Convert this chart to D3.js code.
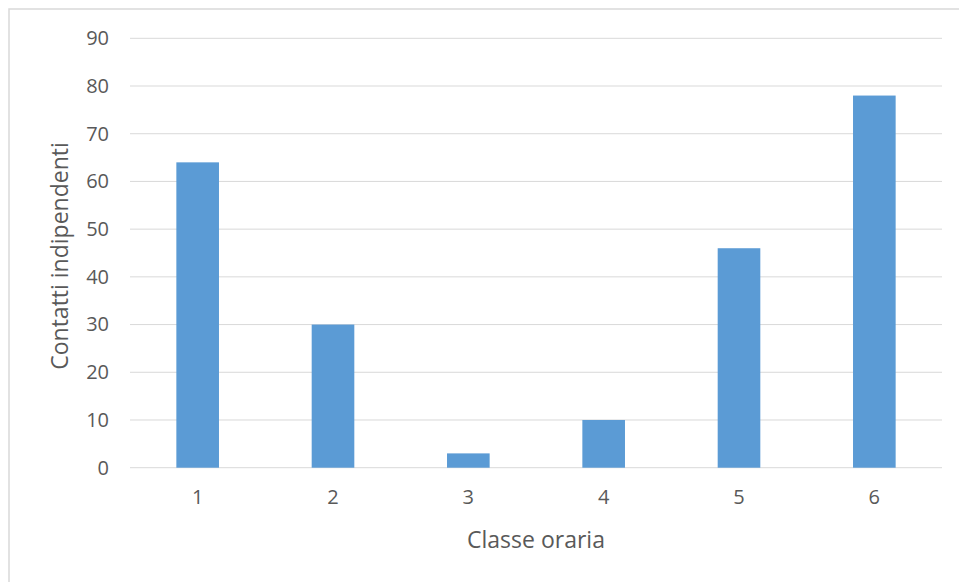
<!DOCTYPE html>
<html>
<head>
<meta charset="utf-8">
<script src="https://cdn.jsdelivr.net/npm/d3@7"></script>
<style>
  html, body { margin: 0; padding: 0; background: #fff; }
  svg { display: block; font-family: "Open Sans", "Noto Sans", sans-serif; }
</style>
</head>
<body>
<svg id="chart" width="959" height="582"></svg>
<script>
// Contatti indipendenti per classe oraria
const categories = ["1", "2", "3", "4", "5", "6"];
const values = [64, 30, 3, 10, 46, 78];
const yTicks = [0, 10, 20, 30, 40, 50, 60, 70, 80, 90];

const svg = d3.select("#chart");
const W = 959, H = 582;
const FONT = "'Open Sans', 'Noto Sans', sans-serif";
const TEXT = "#595959";

// outer frame of the chart area
svg.append("rect")
  .attr("x", 9).attr("y", 9)
  .attr("width", W + 10).attr("height", H + 10)
  .attr("fill", "#fff")
  .attr("stroke", "#d9d9d9")
  .attr("stroke-width", 1.5);

const plot = { left: 130, right: 942, top: 38.3, bottom: 467.7 };

const x = d3.scaleBand()
  .domain(categories)
  .range([plot.left, plot.right])
  .paddingInner(0.685)
  .paddingOuter(0.3425);

const y = d3.scaleLinear()
  .domain([0, 90])
  .range([plot.bottom, plot.top]);

// horizontal gridlines
svg.append("g")
  .selectAll("line")
  .data(yTicks)
  .join("line")
  .attr("x1", plot.left).attr("x2", plot.right)
  .attr("y1", d => y(d)).attr("y2", d => y(d))
  .attr("stroke", "#d9d9d9")
  .attr("stroke-width", 1);

// bars
svg.append("g")
  .selectAll("rect")
  .data(values)
  .join("rect")
  .attr("x", (d, i) => x(categories[i]))
  .attr("width", x.bandwidth())
  .attr("y", d => y(d))
  .attr("height", d => y(0) - y(d))
  .attr("fill", "#5b9bd5");

// y axis labels
const yAxis = d3.axisLeft(y).tickValues(yTicks).tickSize(0).tickPadding(0);
const gy = svg.append("g")
  .attr("transform", `translate(${plot.left - 21},0)`)
  .call(yAxis);
gy.select(".domain").remove();
gy.selectAll("text")
  .attr("fill", TEXT)
  .attr("font-size", 20)
  .attr("font-family", FONT);

// x axis labels
const xAxis = d3.axisBottom(x).tickSize(0).tickPadding(0);
const gx = svg.append("g")
  .attr("transform", `translate(0,${plot.bottom + 22})`)
  .call(xAxis);
gx.select(".domain").remove();
gx.selectAll("text")
  .attr("fill", TEXT)
  .attr("font-size", 20)
  .attr("font-family", FONT);

// axis titles
svg.append("text")
  .attr("x", 536)
  .attr("y", 548)
  .attr("text-anchor", "middle")
  .attr("fill", TEXT)
  .attr("font-size", 23)
  .attr("font-family", FONT)
  .text("Classe oraria");

svg.append("text")
  .attr("transform", `translate(68,${(plot.top + plot.bottom) / 2 + 3}) rotate(-90)`)
  .attr("text-anchor", "middle")
  .attr("fill", TEXT)
  .attr("font-size", 23)
  .attr("font-family", FONT)
  .text("Contatti indipendenti");
</script>
</body>
</html>
